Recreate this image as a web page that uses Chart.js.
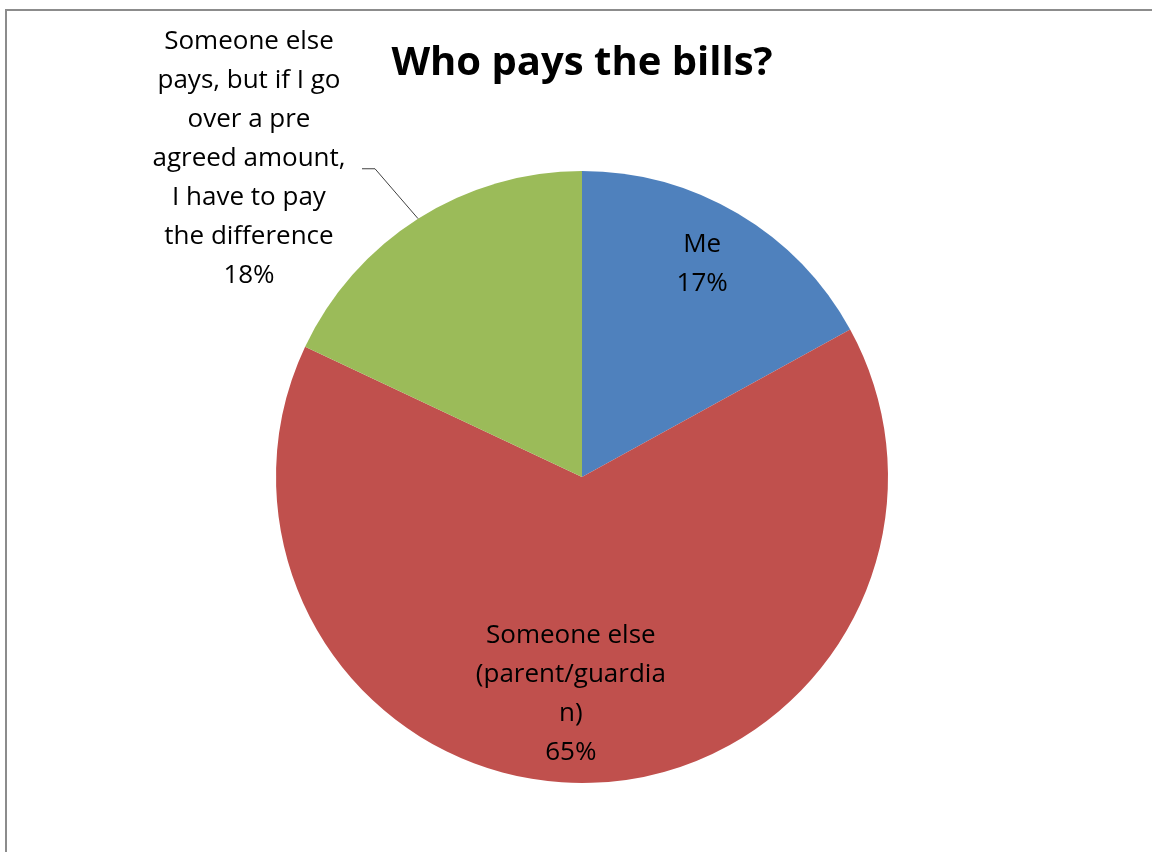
<!DOCTYPE html>
<html>
<head>
<meta charset="utf-8">
<title>Who pays the bills?</title>
<script src="https://cdn.jsdelivr.net/npm/chart.js@4.4.1/dist/chart.umd.min.js"></script>
<style>
  html, body { margin: 0; padding: 0; background: #fff; overflow: hidden; }
  #frame {
    position: absolute; left: 5px; top: 9px; width: 1400px; height: 1000px;
    border-top: 2px solid #8c8c8c; border-left: 2px solid #8c8c8c;
  }
  #chart { position: absolute; left: 0; top: 0; }
</style>
</head>
<body>
<div id="frame"></div>
<canvas id="chart" width="1152" height="852"></canvas>
<script>
// answers to the survey question, clockwise from 12 o'clock
const categories = [
  "Me",
  "Someone else (parent/guardian)",
  "Someone else pays, but if I go over a pre agreed amount, I have to pay the difference",
];
const shares = [17, 65, 18];
const sliceColors = ["#4f81bd", "#c0504d", "#9bbb59"];

// how each label is broken into lines on the chart
const labelLines = [
  ["Me", "17%"],
  ["Someone else", "(parent/guardia", "n)", "65%"],
  ["Someone else", "pays, but if I go", "over a pre", "agreed amount,", "I have to pay", "the difference", "18%"],
];

const FONT = "'Open Sans', 'Noto Sans', sans-serif";

// data labels: inside labels sit along the slice's middle angle,
// the last one is pulled out to the upper left with a leader line
const sliceLabels = {
  id: "sliceLabels",
  afterDatasetsDraw(chart, args, opts) {
    const ctx = chart.ctx;
    const arcs = chart.getDatasetMeta(0).data;
    ctx.save();
    ctx.font = opts.size + "px " + FONT;
    ctx.fillStyle = "#000";
    ctx.textAlign = "center";
    ctx.textBaseline = "middle";

    arcs.forEach((arc, i) => {
      const p = arc.getProps(["x", "y", "startAngle", "endAngle", "outerRadius"], true);
      const mid = (p.startAngle + p.endAngle) / 2;
      const lines = labelLines[i];
      const lh = opts.lineHeight;
      let cx, cy;
      if (opts.outside[i]) {
        cx = opts.outside[i].x;
        cy = opts.outside[i].y;
        // leader: short horizontal tick off the text, then down to the rim
        const rimX = p.x + Math.cos(mid) * p.outerRadius;
        const rimY = p.y + Math.sin(mid) * p.outerRadius;
        const ly = cy + lh * 0.25;
        const lx = cx + opts.outside[i].tick;
        ctx.strokeStyle = "#404040";
        ctx.lineWidth = 1;
        ctx.beginPath();
        ctx.moveTo(lx, ly);
        ctx.lineTo(lx + 13, ly);
        ctx.lineTo(rimX, rimY);
        ctx.stroke();
      } else {
        const r = p.outerRadius * opts.radius[i];
        cx = p.x + Math.cos(mid) * r + opts.shiftX[i];
        cy = p.y + Math.sin(mid) * r;
      }
      const top = cy - (lines.length - 1) * lh / 2;
      lines.forEach((t, k) => ctx.fillText(t, cx, top + k * lh));
    });
    ctx.restore();
  },
};

new Chart(document.getElementById("chart"), {
  type: "pie",
  data: {
    labels: categories,
    datasets: [{
      data: shares,
      backgroundColor: sliceColors,
      borderWidth: 0,
    }],
  },
  options: {
    responsive: false,
    animation: false,
    layout: { padding: { left: 276, right: 264, top: 0, bottom: 69 } },
    plugins: {
      legend: { display: false },
      tooltip: { enabled: false },
      title: {
        display: true,
        text: "Who pays the bills?",
        color: "#000",
        font: { family: FONT, size: 40, weight: "bold", lineHeight: 1.2 },
        padding: { top: 40, bottom: 83 },
      },
      sliceLabels: {
        size: 26,
        lineHeight: 39,
        radius: [0.81, 0.71, 0],
        shiftX: [-6, -18, 0],
        outside: [null, null, { x: 249, y: 159, tick: 113 }],
      },
    },
  },
  plugins: [sliceLabels],
});
</script>
</body>
</html>
